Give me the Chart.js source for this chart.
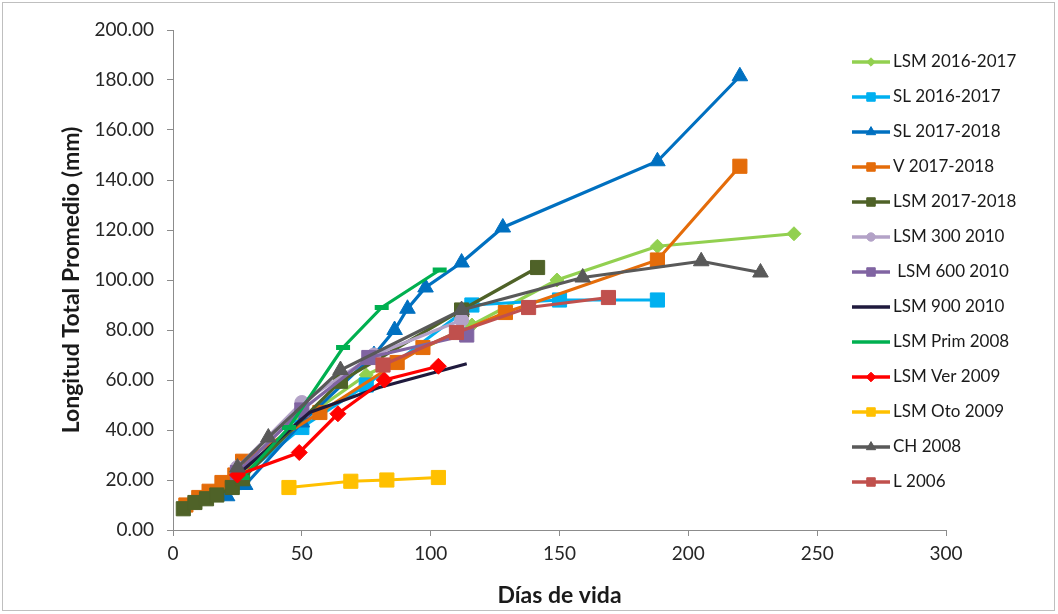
<!DOCTYPE html>
<html>
<head>
<meta charset="utf-8">
<script src="https://cdn.jsdelivr.net/npm/chart.js@4.4.1/dist/chart.umd.min.js"></script>
<style>
html,body{margin:0;padding:0;background:#fff;}
#wrap{position:relative;width:1058px;height:614px;}
canvas{display:block;}
</style>
</head>
<body>
<div id="wrap"><canvas id="c" width="1058" height="614"></canvas></div>
<script>
// ---- Data ----
const seriesNames = ["LSM 2016-2017","SL 2016-2017","SL 2017-2018","V 2017-2018","LSM 2017-2018","LSM 300 2010"," LSM 600 2010","LSM 900 2010","LSM Prim 2008","LSM Ver 2009","LSM Oto 2009","CH 2008","L 2006"];

const lsm1617Days = [25, 50, 75, 116, 149, 188, 241];
const lsm1617Len  = [21, 44, 62, 82, 100, 113.5, 118.5];

const sl1617Days = [24, 50, 75, 116, 150, 188];
const sl1617Len  = [19, 41, 58, 90, 92, 92];

const sl1718Days = [21, 28, 50, 78, 86, 91, 98, 112, 128, 188, 220];
const sl1718Len  = [13.5, 18, 43, 70, 80, 88.5, 97, 107, 121, 147.5, 181.5];

const v1718Days = [5, 10, 14, 19, 24, 27, 57, 87, 97, 129, 188, 220];
const v1718Len  = [10, 13, 15.5, 19, 22, 27.5, 47, 67, 73, 87, 108, 145.5];

const lsm1718Days = [4, 8.5, 13, 17, 23, 27, 65, 112, 141.5];
const lsm1718Len  = [8.5, 11, 12.5, 14, 17, 20.5, 59.5, 88, 105];

const lsm300Days = [25, 50, 78, 112];
const lsm300Len  = [25, 51, 70, 84];

const lsm600Days = [25, 50, 76, 114];
const lsm600Len  = [23, 48, 69, 78];

const lsm900Days = [25, 53, 80, 114];
const lsm900Len  = [22, 47, 57, 66.5];

const primDays = [27, 45, 66, 81, 103.5];
const primLen  = [21, 41, 73, 89, 104];

const verDays = [25, 49, 64, 82, 103];
const verLen  = [22, 31, 46.5, 60, 65.5];

const otoDays = [45, 69, 83, 103];
const otoLen  = [17, 19.5, 20, 21];

const ch2008Days = [25, 37, 65, 112, 159, 205, 228];
const ch2008Len  = [25, 37, 64, 88, 101, 107.5, 103];

const l2006Days = [81.5, 110, 138, 169];
const l2006Len  = [66, 79, 89, 93];

const xTicks = [0, 50, 100, 150, 200, 250, 300];
const yTicks = [0, 20, 40, 60, 80, 100, 120, 140, 160, 180, 200];

// ---- Styles ----
const styles = [
  {color:'#92D050', style:'rectRot', r:7},
  {color:'#00B0F0', style:'rect', r:10},
  {color:'#0070C0', style:'triangle', r:9},
  {color:'#E46C0A', style:'rect', r:10},
  {color:'#4F6228', style:'rect', r:10},
  {color:'#B3A2C7', style:'circle', r:7},
  {color:'#8064A2', style:'rect', r:10},
  {color:'#1F1A3D', style:'circle', r:0},
  {color:'#00B050', style:'line', r:7, pbw:5},
  {color:'#FF0000', style:'rectRot', r:8},
  {color:'#FFC000', style:'rect', r:10},
  {color:'#595959', style:'triangle', r:9},
  {color:'#C0504D', style:'rect', r:10}
];

const allX = [lsm1617Days, sl1617Days, sl1718Days, v1718Days, lsm1718Days, lsm300Days, lsm600Days, lsm900Days, primDays, verDays, otoDays, ch2008Days, l2006Days];
const allY = [lsm1617Len, sl1617Len, sl1718Len, v1718Len, lsm1718Len, lsm300Len, lsm600Len, lsm900Len, primLen, verLen, otoLen, ch2008Len, l2006Len];

const n = seriesNames.length;
const datasets = seriesNames.map((name, i) => ({
  label: name,
  data: allX[i].map((x, k) => ({x: x, y: allY[i][k]})),
  borderColor: styles[i].color,
  backgroundColor: styles[i].color,
  pointBackgroundColor: styles[i].color,
  pointBorderColor: styles[i].color,
  pointStyle: styles[i].style,
  pointRadius: styles[i].r,
  pointHoverRadius: styles[i].r,
  pointBorderWidth: styles[i].pbw || 1,
  borderWidth: 3.2,
  tension: 0,
  fill: false,
  order: n - i
}));

const FONT = 'Lato, "Liberation Sans", sans-serif';

const legendPlugin = {
  id: 'excelLegend',
  afterDraw(chart) {
    const ctx = chart.ctx;
    const x0 = 852, x1 = 890, tx = 893, y0 = 62, dy = 35;
    ctx.save();
    chart.data.datasets.forEach((ds, i) => {
      const y = y0 + i * dy;
      ctx.strokeStyle = ds.borderColor;
      ctx.lineWidth = 3.5;
      ctx.lineCap = 'butt';
      ctx.beginPath(); ctx.moveTo(x0, y); ctx.lineTo(x1, y); ctx.stroke();
      const st = styles[i];
      if (st.r > 0 && st.style !== 'line') {
        ctx.fillStyle = ds.borderColor;
        ctx.strokeStyle = ds.borderColor;
        ctx.lineWidth = 1;
        Chart.helpers.drawPoint(ctx, {pointStyle: st.style, radius: st.r * 0.6, rotation: 0, borderWidth: 1}, (x0 + x1) / 2, y);
      }
      ctx.fillStyle = '#1a1a1a';
      ctx.font = '17px ' + FONT;
      ctx.textBaseline = 'middle';
      ctx.textAlign = 'left';
      ctx.fillText(ds.label, tx, y);
    });
    ctx.restore();
  }
};

const framePlugin = {
  id: 'frame',
  afterDraw(chart) {
    const ctx = chart.ctx;
    ctx.save();
    ctx.strokeStyle = '#BFBFBF';
    ctx.lineWidth = 1;
    ctx.strokeRect(2.5, 2.5, 1052, 608);
    ctx.restore();
  }
};

new Chart(document.getElementById('c'), {
  type: 'line',
  data: { datasets: datasets },
  plugins: [legendPlugin, framePlugin],
  options: {
    responsive: false,
    animation: false,
    layout: { padding: { top: 30, right: 112, bottom: 0, left: 0 } },
    plugins: { legend: { display: false }, tooltip: { enabled: false } },
    scales: {
      x: {
        type: 'linear', min: 0, max: 300,
        afterBuildTicks(scale) { scale.ticks = xTicks.map(v => ({value: v})); },
        afterFit(scale) { scale.height = 84; },
        ticks: { color: '#262626', font: { family: FONT, size: 19 }, padding: 6, maxRotation: 0 },
        grid: { display: true, drawOnChartArea: false, drawTicks: true, tickLength: 6, color: '#8C8C8C' },
        border: { display: true, color: '#8C8C8C', width: 1 },
        title: { display: true, text: 'Días de vida', color: '#1a1a1a', font: { family: FONT, size: 23, weight: 'bold' }, padding: { top: 0, bottom: 5 } }
      },
      y: {
        type: 'linear', min: 0, max: 200,
        afterBuildTicks(scale) { scale.ticks = yTicks.map(v => ({value: v})); },
        afterFit(scale) { scale.width = 173; },
        ticks: { color: '#262626', font: { family: FONT, size: 19 }, padding: 13, callback: v => Number(v).toFixed(2) },
        grid: { display: true, drawOnChartArea: false, drawTicks: true, tickLength: 6, color: '#8C8C8C' },
        border: { display: true, color: '#8C8C8C', width: 1 },
        title: { display: true, text: 'Longitud Total Promedio (mm)', color: '#1a1a1a', font: { family: FONT, size: 23, weight: 'bold' }, padding: { top: 58, bottom: 0 } }
      }
    }
  }
});
</script>
</body>
</html>
